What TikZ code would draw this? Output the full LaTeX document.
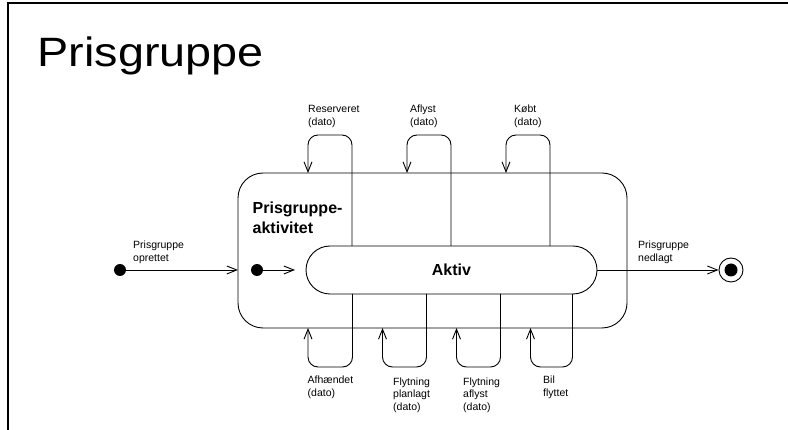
\documentclass[tikz,border=0pt]{standalone}
\usepackage{fontspec}
\setmainfont{Liberation Sans}
\usetikzlibrary{arrows.meta}
\tikzset{
  x=1pt, y=-1pt,
  line/.style={line width=0.9pt, black},
  arr/.style={line, -{Straight Barb[length=10pt,width=8pt,line width=0.9pt]}},
  loopline/.style={arr, rounded corners=10pt},
  % labels are placed by the baseline of their last line
  lbl/.style={anchor=base west, inner sep=0pt, align=left,
    font=\fontsize{10.5pt}{12.5pt}\selectfont},
  dot/.style={circle, fill=black, inner sep=0pt, minimum size=12pt},
}
\begin{document}
\begin{tikzpicture}
\useasboundingbox (0,0) rectangle (788,430);
% page frame
\draw[line width=2pt] (8,431) -- (8,3) -- (789,3);

% title
\node[anchor=base west, inner sep=0pt, font=\fontsize{41pt}{41pt}\selectfont]
  (title) at (37.5,66.7) {\scalebox{1.14}[1]{Prisgruppe}};

% composite state and its sub-state
\node[line, draw, rounded corners=25pt, inner sep=0pt, outer sep=0pt,
  minimum width=389pt, minimum height=155pt] (outer) at (432.5,250.5) {};
\node[anchor=base west, inner sep=0pt, align=left,
  font=\fontsize{16pt}{20pt}\selectfont\bfseries]
  (outername) at (252.5,234) {Prisgruppe-\\aktivitet};
\node[line, draw, rounded corners=24pt, inner sep=0pt, outer sep=0pt,
  minimum width=291pt, minimum height=48pt,
  font=\fontsize{16pt}{18pt}\selectfont\bfseries] (aktiv) at (451.5,270) {Aktiv};

% initial and final states
\node[dot] (init) at (120,270) {};
\node[dot] (init2) at (257,270) {};
\node[line, draw, circle, inner sep=0pt, minimum size=24pt] (final) at (731,270) {};
\node[dot, minimum size=13pt] (finaldot) at (final) {};

\draw[arr] (init) -- (outer.west |- init);
\draw[arr, shorten >=11pt] (init2) -- (aktiv.west |- init2);
\draw[arr] (aktiv.east) -- (final.west);

\node[lbl] (l-opr) at (133,261.5) {Prisgruppe\\oprettet};
\node[lbl] (l-ned) at (638,261.5) {Prisgruppe\\nedlagt};

% self transitions over the top
\draw[loopline] (aktiv.north -| 352,0) -- (352,135) -- (308,135) -- (outer.north -| 308,0);
\draw[loopline] (aktiv.north -| 451,0) -- (451,135) -- (407,135) -- (outer.north -| 407,0);
\draw[loopline] (aktiv.north -| 550,0) -- (550,135) -- (506,135) -- (outer.north -| 506,0);
\node[lbl] (l-res) at (308,125.5) {Reserveret\\(dato)};
\node[lbl] (l-afl) at (410,125.5) {Aflyst\\(dato)};
\node[lbl] (l-kob) at (514,125.5) {Købt\\(dato)};

% self transitions underneath
\draw[loopline] (aktiv.south -| 352.5,0) -- (352.5,367) -- (308,367) -- (outer.south -| 308,0);
\draw[loopline] (aktiv.south -| 426.5,0) -- (426.5,367) -- (382.5,367) -- (outer.south -| 382.5,0);
\draw[loopline] (aktiv.south -| 500.5,0) -- (500.5,367) -- (456.5,367) -- (outer.south -| 456.5,0);
\draw[loopline] (aktiv.south -| 572.5,0) -- (572.5,367) -- (530.5,367) -- (outer.south -| 530.5,0);
\node[lbl] (l-afh) at (307.5,396.5) {Afhændet\\(dato)};
\node[lbl] (l-fpl) at (393,410.5) {Flytning\\planlagt\\(dato)};
\node[lbl] (l-faf) at (463,410.5) {Flytning\\aflyst\\(dato)};
\node[lbl] (l-bil) at (543,396.5) {Bil\\flyttet};
\end{tikzpicture}
\end{document}
